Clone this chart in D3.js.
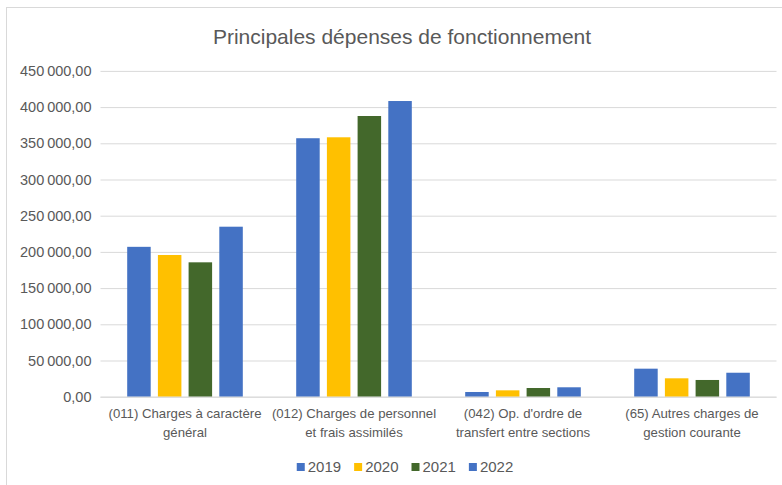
<!DOCTYPE html>
<html>
<head>
<meta charset="utf-8">
<script src="https://cdn.jsdelivr.net/npm/d3@7"></script>
<style>
  body { margin: 0; background: #fff; }
  text { font-family: "Liberation Sans", Arial, sans-serif; fill: #595959; }
</style>
</head>
<body>
<div id="chart"></div>
<script>
// chart data
const categories = [
  "(011) Charges à caractère général",
  "(012) Charges de personnel et frais assimilés",
  "(042) Op. d'ordre de transfert entre sections",
  "(65) Autres charges de gestion courante"
];
const years = ["2019", "2020", "2021", "2022"];
const v2019 = [207000, 357000, 6500, 38700];
const v2020 = [195700, 358300, 8800, 25400];
const v2021 = [185600, 387700, 12000, 23100];
const v2022 = [234800, 408400, 13000, 33100];
const yTicks = [0, 50000, 100000, 150000, 200000, 250000, 300000, 350000, 400000, 450000];

const colors = ["#4472C4", "#FFC000", "#43682B", "#4472C4"];
const seriesVals = [v2019, v2020, v2021, v2022];

const w = 782, h = 485;
const pLeft = 100.5, pRight = 776.5, pTop = 70.9, pBottom = 396.7;

const fr = d3.formatLocale({decimal: ",", thousands: "\u202F", grouping: [3], currency: ["", " €"]});
const fmt = fr.format(",.2f");

const svg = d3.select("#chart").append("svg")
    .attr("width", w)
    .attr("height", h);

// chart frame
svg.append("rect")
    .attr("x", 6.5).attr("y", 7.5)
    .attr("width", 790).attr("height", 500)
    .attr("fill", "#fff")
    .attr("stroke", "#d9d9d9")

// title
svg.append("text")
    .attr("x", 402).attr("y", 44)
    .attr("text-anchor", "middle")
    .attr("font-size", 21)
    .text("Principales dépenses de fonctionnement")

// scales
const y = d3.scaleLinear().domain([0, 450000]).range([pBottom, pTop]);
const x0 = d3.scaleBand().domain(categories).range([pLeft, pRight]);
const groupW = 115.6;
const x1 = d3.scaleBand().domain(years)
    .range([(x0.bandwidth() - groupW) / 2, (x0.bandwidth() + groupW) / 2])
    .paddingInner(0.2345);

// gridlines + y labels
const yAxis = d3.axisLeft(y).tickValues(yTicks).tickFormat(fmt)
    .tickSize(-(pRight - pLeft)).tickPadding(9);
const gy = svg.append("g")
    .attr("transform", "translate(" + pLeft + ",0)")
    .call(yAxis);
gy.select(".domain").remove();
gy.selectAll(".tick line").attr("stroke", "#d9d9d9");
gy.selectAll(".tick text")
    .attr("font-size", 14.5)
    .attr("fill", "#595959")
    .style("font-family", "'Liberation Sans', Arial, sans-serif");

// bars
const groups = svg.selectAll(".grp")
    .data(categories)
    .enter().append("g")
    .attr("transform", (d) => "translate(" + x0(d) + ",0)");

groups.selectAll("rect")
    .data((d, i) => years.map((yr, j) => ({yr: yr, j: j, v: seriesVals[j][i]})))
    .enter().append("rect")
    .attr("x", (d) => x1(d.yr))
    .attr("width", x1.bandwidth())
    .attr("y", (d) => y(d.v))
    .attr("height", (d) => y(0) - y(d.v))
    .attr("fill", (d) => colors[d.j]);

// x axis line
svg.append("line")
    .attr("x1", pLeft).attr("x2", pRight)
    .attr("y1", pBottom + 0.5).attr("y2", pBottom + 0.5)
    .attr("stroke", "#d9d9d9")

// category labels, wrapped
const labelSize = 13.2;
function wrapLines(str, maxW) {
  const words = str.split(" ");
  const lines = [];
  let line = [];
  const tmp = svg.append("text").attr("font-size", labelSize);
  words.forEach((wd) => {
    line.push(wd);
    tmp.text(line.join(" "));
    if (tmp.node().getComputedTextLength() > maxW && line.length > 1) {
      line.pop();
      lines.push(line.join(" "));
      line = [wd];
    }
  });
  lines.push(line.join(" "));
  tmp.remove();
  return lines;
}

categories.forEach((c) => {
  const lines = wrapLines(c, 166);
  const t = svg.append("text")
      .attr("text-anchor", "middle")
      .attr("font-size", labelSize);
  lines.forEach((ln, k) => {
    t.append("tspan")
        .attr("x", x0(c) + x0.bandwidth() / 2)
        .attr("y", 418 + k * 19)
        .text(ln);
  });
});

// legend
const leg = svg.append("g");
let lx = 0;
years.forEach((yr, j) => {
  const it = leg.append("g").attr("transform", "translate(" + lx + ",0)");
  it.append("rect")
      .attr("x", 0).attr("y", -9)
      .attr("width", 8).attr("height", 8)
      .attr("fill", colors[j]);
  const tx = it.append("text")
      .attr("x", 11).attr("y", 0)
      .attr("font-size", 15)
      .text(yr);
  lx += 11 + tx.node().getComputedTextLength() + 13;
});
lx -= 13;
leg.attr("transform", "translate(" + (405 - lx / 2) + ",472)");
</script>
</body>
</html>
